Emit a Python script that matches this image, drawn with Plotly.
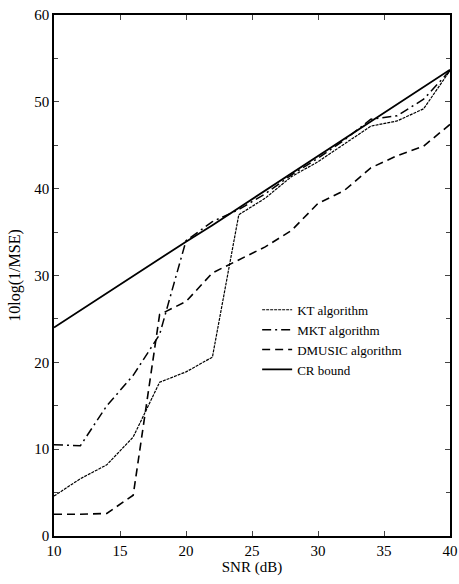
import plotly.graph_objects as go

snr = [10, 12, 14, 16, 18, 20, 22, 24, 26, 28, 30, 32, 34, 36, 38, 40]
kt = [4.6, 6.6, 8.2, 11.4, 17.7, 18.9, 20.6, 37.0, 38.9, 41.4, 43.1, 45.2, 47.2, 47.8, 49.2, 53.6]
mkt = [10.5, 10.4, 15.0, 18.5, 23.2, 34.0, 36.2, 37.6, 39.4, 41.6, 43.5, 45.6, 48.0, 48.4, 50.3, 53.6]
dmusic = [2.5, 2.5, 2.6, 4.7, 25.5, 27.0, 30.3, 31.8, 33.3, 35.2, 38.3, 39.8, 42.4, 43.8, 44.9, 47.4]
crb = [24.0, 26.0, 28.0, 30.0, 31.9, 33.9, 35.8, 37.8, 39.7, 41.7, 43.7, 45.7, 47.7, 49.7, 51.7, 53.7]

names = ["KT algorithm", "MKT algorithm", "DMUSIC algorithm", "CR bound"]

fig = go.Figure()
fig.add_trace(go.Scatter(x=snr, y=kt, mode="lines", name=names[0],
                         line=dict(color="black", width=1.2, dash="3px,1px")))
fig.add_trace(go.Scatter(x=snr, y=mkt, mode="lines", name=names[1],
                         line=dict(color="black", width=1.5, dash="9px,4px,2px,4px")))
fig.add_trace(go.Scatter(x=snr, y=dmusic, mode="lines", name=names[2],
                         line=dict(color="black", width=1.6, dash="8px,5px")))
fig.add_trace(go.Scatter(x=snr, y=crb, mode="lines", name=names[3],
                         line=dict(color="black", width=1.8)))

font = "Liberation Serif, Times New Roman, serif"
fig.update_layout(
    width=459, height=584,
    margin=dict(l=54, r=9, t=15, b=48),
    paper_bgcolor="white", plot_bgcolor="white",
    font=dict(family=font, size=14, color="black"),
    showlegend=True,
    legend=dict(x=0.513, y=0.463, xanchor="left", yanchor="top",
                bgcolor="rgba(0,0,0,0)", font=dict(size=13, family=font),
                tracegroupgap=0, itemwidth=30),
    xaxis=dict(range=[10, 40], tickvals=[10, 15, 20, 25, 30, 35, 40],
               ticks="inside", ticklen=5, showline=True, linecolor="black",
               linewidth=1.5, mirror="ticks", showgrid=False, zeroline=False,
               automargin=False,
               title=dict(text="SNR (dB)", standoff=4, font=dict(size=15)),
               tickfont=dict(size=15)),
    yaxis=dict(range=[0, 60], tickvals=[0, 10, 20, 30, 40, 50, 60],
               ticks="inside", ticklen=5, showline=True, linecolor="black",
               linewidth=1.5, mirror="ticks", showgrid=False, zeroline=False,
               automargin=False,
               minor=dict(ticks="inside", ticklen=4, dtick=5, showgrid=False),
               title=dict(text="10log(1/MSE)", standoff=10, font=dict(size=16)),
               tickfont=dict(size=15)),
)

fig.write_html("out.html", config={"displayModeBar": False},
               post_script="document.body.style.margin='0';document.documentElement.style.overflow='hidden';")
